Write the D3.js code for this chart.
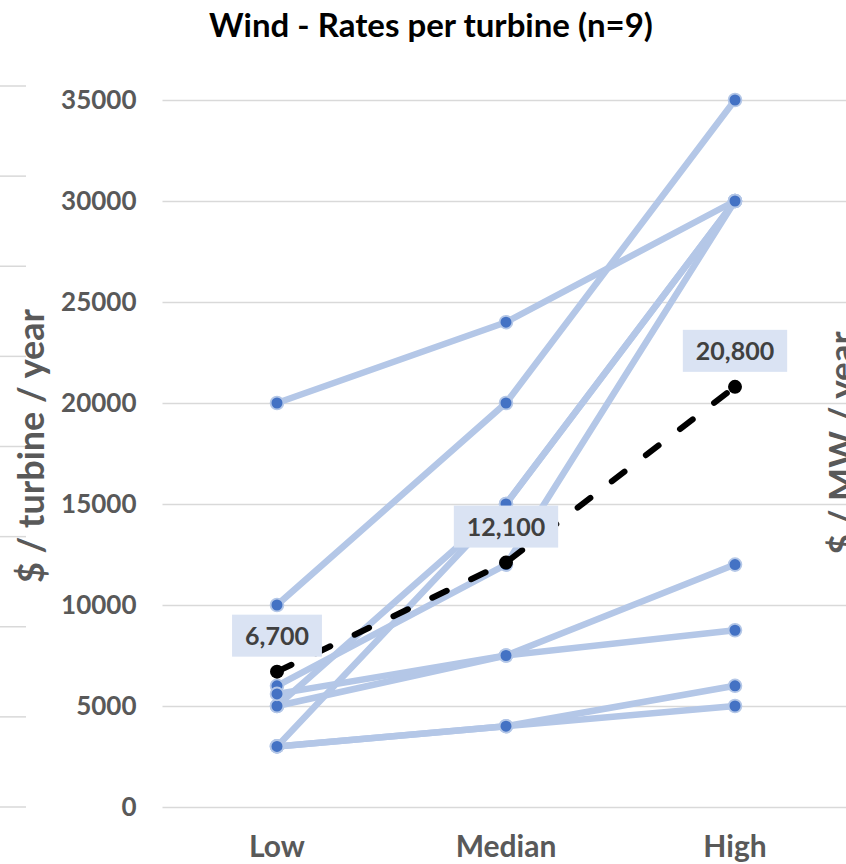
<!DOCTYPE html>
<html>
<head>
<meta charset="utf-8">
<script src="https://cdn.jsdelivr.net/npm/d3@7"></script>
<style>
  html, body { margin: 0; padding: 0; background: #fff; }
  svg { display: block; font-family: Lato, "Open Sans", sans-serif; }
</style>
</head>
<body>
<div id="chart"></div>
<script>
// Rate ranges (Low / Median / High) reported per turbine, one row per source
const categories = ["Low", "Median", "High"];
const sourceRates = [
  [20000, 24000, 30000],
  [10000, 20000, 35000],
  [3000, 15000, 30000],
  [5000, 15000, 30000],
  [6000, 12000, 30000],
  [5000, 7500, 12000],
  [5600, 7500, 8750],
  [3000, 4000, 5000],
  [3000, 4000, 6000]
];
// Average across sources for each category
const averageRates = [6700, 12100, 20800];
const yTicks = [0, 5000, 10000, 15000, 20000, 25000, 30000, 35000];
// Gridlines of the neighbouring panel that peek in at the left edge
const sidePanelTicks = [0, 1, 2, 3, 4, 5, 6, 7, 8];

const title = "Wind - Rates per turbine (n=9)";
const yTitle = "$ / turbine / year";
const sideYTitle = "$ / MW / year";

const W = 846, H = 864;
const svg = d3.select("#chart").append("svg").attr("width", W).attr("height", H);

const x = d3.scaleBand().domain(categories).range([162.5, 849.5]);
const cx = c => x(c) + x.bandwidth() / 2;
const y = d3.scaleLinear().domain([0, 35000]).range([807, 100]);

// neighbouring panel gridlines
const ySide = d3.scaleLinear().domain([0, 8]).range([807, 86]);
svg.append("g").selectAll("line").data(sidePanelTicks).join("line")
  .attr("x1", 0).attr("x2", 26)
  .attr("y1", d => ySide(d)).attr("y2", d => ySide(d))
  .attr("stroke", "#d9d9d9").attr("stroke-width", 1.5);

// horizontal gridlines + tick labels
const yAxis = d3.axisLeft(y).tickValues(yTicks).tickFormat(d3.format("d"))
  .tickSize(-(849.5 - 162.5)).tickPadding(26);
const gy = svg.append("g").attr("transform", "translate(162.5,0)").call(yAxis);
gy.select(".domain").remove();
gy.selectAll(".tick line").attr("stroke", "#d9d9d9").attr("stroke-width", 1.5);
gy.selectAll(".tick text")
  .attr("fill", "#595959").attr("font-size", 26).attr("font-weight", 700)
  .attr("font-family", "Lato, sans-serif");

// category labels
const xAxis = d3.axisBottom(x).tickSize(0).tickPadding(0);
const gx = svg.append("g").attr("transform", "translate(0,836)").call(xAxis);
gx.select(".domain").remove();
gx.selectAll(".tick text")
  .attr("fill", "#595959").attr("font-size", 30).attr("font-weight", 700)
  .attr("font-family", "Lato, sans-serif");

// titles
svg.append("text").attr("x", 431).attr("y", 37).attr("text-anchor", "middle")
  .attr("font-size", 33).attr("font-weight", 700).attr("fill", "#000").text(title);

svg.append("text").attr("transform", "translate(44,446) rotate(-90)")
  .attr("text-anchor", "middle").attr("font-size", 36).attr("font-weight", 700)
  .attr("fill", "#595959").text(yTitle);

svg.append("text").attr("transform", "translate(854,443) rotate(-90)")
  .attr("text-anchor", "middle").attr("font-size", 35).attr("font-weight", 700)
  .attr("fill", "#595959").text(sideYTitle);

// source lines
const line = d3.line().x((d, i) => cx(categories[i])).y(d => y(d));
const series = svg.append("g").selectAll("g").data(sourceRates).join("g");
series.append("path").attr("d", d => line(d))
  .attr("fill", "none").attr("stroke", "#b4c7e7").attr("stroke-width", 6.5)
  .attr("stroke-linejoin", "round");
series.selectAll("circle").data(d => d).join("circle")
  .attr("cx", (d, i) => cx(categories[i])).attr("cy", d => y(d)).attr("r", 6.4)
  .attr("fill", "#4472c4").attr("stroke", "#b4c7e7").attr("stroke-width", 1.8);

// average line
svg.append("path").attr("d", line(averageRates))
  .attr("fill", "none").attr("stroke", "#000").attr("stroke-width", 6)
  .attr("stroke-dasharray", "16,27").attr("stroke-linecap", "round");
svg.append("g").selectAll("circle").data(averageRates).join("circle")
  .attr("cx", (d, i) => cx(categories[i])).attr("cy", d => y(d)).attr("r", 7)
  .attr("fill", "#000");

// value labels for the average
const fmt = d3.format(",");
const labels = svg.append("g").selectAll("g").data(averageRates).join("g")
  .attr("transform", (d, i) => `translate(${cx(categories[i])},${y(d) - 15})`);
labels.each(function(d) {
  const g = d3.select(this);
  const t = g.append("text").attr("text-anchor", "middle").attr("y", -12)
    .attr("font-size", 25).attr("font-weight", 700).attr("fill", "#404040")
    .text(fmt(d));
  const w = t.node().getComputedTextLength() + 26;
  g.insert("rect", "text").attr("x", -w / 2).attr("y", -42).attr("width", w).attr("height", 42)
    .attr("fill", "#dae3f3");
});
</script>
</body>
</html>
